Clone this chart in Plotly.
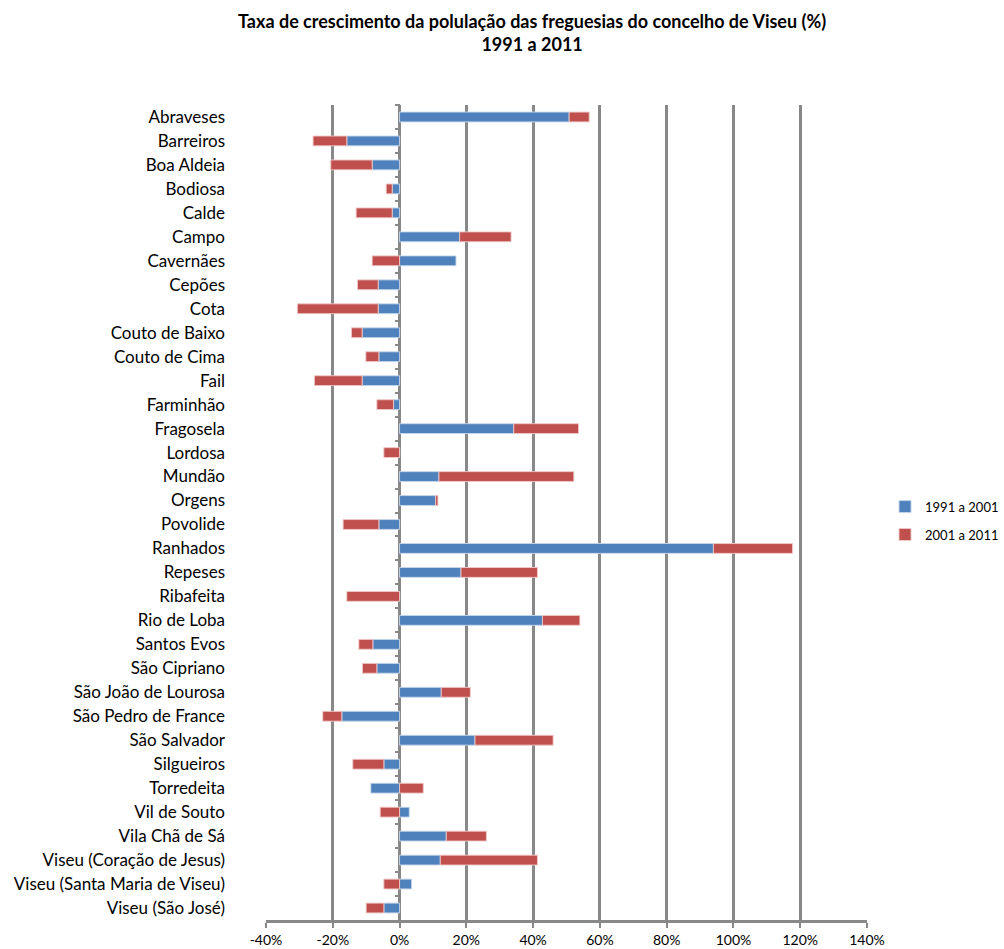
import plotly.graph_objects as go

freguesias = [
    "Abraveses", "Barreiros", "Boa Aldeia", "Bodiosa", "Calde", "Campo", "Cavernães",
    "Cepões", "Cota", "Couto de Baixo", "Couto de Cima", "Fail", "Farminhão",
    "Fragosela", "Lordosa", "Mundão", "Orgens", "Povolide", "Ranhados", "Repeses",
    "Ribafeita", "Rio de Loba", "Santos Evos", "São Cipriano", "São João de Lourosa",
    "São Pedro de France", "São Salvador", "Silgueiros", "Torredeita", "Vil de Souto",
    "Vila Chã de Sá", "Viseu (Coração de Jesus)", "Viseu (Santa Maria de Viseu)",
    "Viseu (São José)",
]

taxa_1991_2001 = [
    50.8, -15.8, -8.2, -2.2, -2.2, 18.0, 16.9,
    -6.4, -6.4, -11.2, -6.2, -11.2, -1.8,
    34.2, 0.0, 11.8, 10.8, -6.2, 94.0, 18.4,
    0.0, 42.8, -8.0, -6.8, 12.5,
    -17.3, 22.6, -4.7, -8.6, 2.9,
    14.0, 12.2, 3.6,
    -4.7,
]

taxa_2001_2011 = [
    6.0, -10.1, -12.4, -1.8, -10.8, 15.4, -8.2,
    -6.2, -24.2, -3.2, -3.9, -14.3, -5.0,
    19.4, -4.7, 40.4, 0.7, -10.7, 23.7, 22.9,
    -15.8, 11.2, -4.2, -4.3, 8.7,
    -5.7, 23.4, -9.3, 7.1, -5.8,
    12.0, 29.1, -4.7,
    -5.3,
]

tick_vals = [-40, -20, 0, 20, 40, 60, 80, 100, 120, 140]
tick_text = ["-40%", "-20%", "0%", "20%", "40%", "60%", "80%", "100%", "120%", "140%"]

FONT = "Lato, Carlito, Calibri, 'Liberation Sans', sans-serif"
GRID = "#888888"
n = len(freguesias)
y_range = [n - 0.5, -0.5]
x_min, x_max = -40, 140

fig = go.Figure()
fig.add_trace(go.Bar(
    y=freguesias, x=taxa_1991_2001, orientation="h", name="1991 a 2001",
    legendgroup="a",
    marker=dict(color="#4F81BD", line=dict(color="rgba(200,215,235,0.9)", width=1)),
))
fig.add_trace(go.Bar(
    y=freguesias, x=taxa_2001_2011, orientation="h", name="2001 a 2011",
    legendgroup="b",
    marker=dict(color="#C0504D", line=dict(color="rgba(240,200,200,0.9)", width=1)),
))
# helper trace carrying the category axis drawn at the 0% position (tick marks only)
fig.add_trace(go.Scatter(
    y=freguesias, x=[None] * n, yaxis="y2", mode="markers",
    showlegend=False, hoverinfo="skip",
))

zero_pos = (0 - x_min) / (x_max - x_min)

fig.update_layout(
    barmode="relative",
    bargap=0.59,
    width=1004, height=949,
    margin=dict(l=266, r=137, t=105, b=29, autoexpand=False),
    paper_bgcolor="white", plot_bgcolor="white",
    font=dict(family=FONT, size=16, color="#000000"),
    title=dict(
        text="<b>Taxa de crescimento da polulação das freguesias do concelho de Viseu (%)</b><br><b>1991 a 2011</b>",
        x=0.53, xanchor="center", y=0.971, yanchor="top",
        font=dict(family=FONT, size=18, color="#000000"),
    ),
    legend=dict(
        x=1.03, xanchor="left", y=0.49, yanchor="middle",
        font=dict(family=FONT, size=13),
        traceorder="grouped", itemwidth=30, tracegroupgap=8,
        bgcolor="rgba(0,0,0,0)",
    ),
    xaxis=dict(
        range=[x_min, x_max], tickvals=tick_vals, ticktext=tick_text,
        showgrid=True, gridcolor=GRID, gridwidth=2.5,
        zeroline=True, zerolinecolor=GRID, zerolinewidth=2.5,
        showline=True, linecolor=GRID, linewidth=2.5,
        ticks="outside", ticklen=5, tickcolor=GRID, tickwidth=2,
        tickfont=dict(family=FONT, size=14),
    ),
    yaxis=dict(
        range=y_range, showgrid=False, zeroline=False, showline=False,
        ticks="", ticklabelstandoff=40,
        tickfont=dict(family=FONT, size=17),
    ),
    yaxis2=dict(
        type="category", categoryorder="array", categoryarray=freguesias,
        range=y_range, overlaying="y", anchor="free", position=zero_pos, side="left",
        showgrid=False, zeroline=False, showline=False, showticklabels=False,
        ticks="outside", tickson="boundaries", ticklen=5, tickwidth=2, tickcolor=GRID,
    ),
)

fig.write_html("out.html")
